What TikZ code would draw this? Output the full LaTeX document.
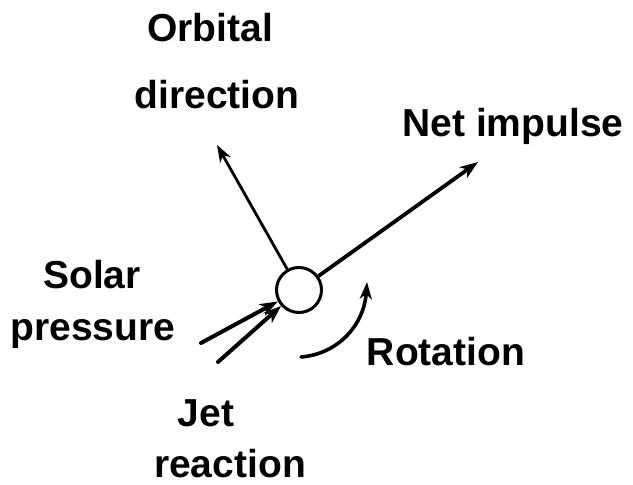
\documentclass[tikz,border=0pt]{standalone}
\usepackage{fontspec}
\setmainfont{Liberation Sans}
\usetikzlibrary{arrows.meta}
\begin{document}
\begin{tikzpicture}[x=1pt,y=-1pt,
  lbl/.style={anchor=base,inner sep=0pt,font=\fontsize{39}{44}\selectfont\bfseries},
  vec/.style={line width=2.8pt,-{Stealth[length=17pt,width=12pt,inset=5pt]}},
  thick vec/.style={line width=3.8pt,-{Stealth[length=18pt,width=13pt,inset=5pt]}},
  jet/.style={line width=4pt,line cap=round,-{Stealth[length=18pt,width=13pt,inset=5pt]}}]
\useasboundingbox (0,0) rectangle (633,485);
\node[circle,draw,line width=3pt,minimum size=45pt,inner sep=0pt] (sat) at (299,290) {};
\coordinate (otip) at (217,145);
\coordinate (ntip) at (478,162);
\coordinate (sp) at (201,343);
\coordinate (jr) at (218,362);
\coordinate (rs) at (301,357);
\coordinate (rt) at (367,282);
\draw[vec] (sat) -- (otip);
\draw[thick vec] (sat) -- (ntip);
\draw[jet] (sp) -- (sat);
\draw[jet] (jr) -- (sat);
\draw[line width=3.6pt,line cap=round,-{Stealth[length=17pt,width=12pt,inset=5pt]}] (rs) .. controls (338,354) and (364,325) .. (rt);
\node[lbl] (orb) at (210,41) {Orbital};
\node[lbl] (dir) at (217,108) {direction};
\node[lbl] (net) at (513,136) {Net impulse};
\node[lbl] (sol) at (92,288) {Solar};
\node[lbl] (pre) at (93,340) {pressure};
\node[lbl] (rot) at (446,365) {Rotation};
\node[lbl] (jet) at (206,426) {Jet};
\node[lbl] (rea) at (230,477) {reaction};
\end{tikzpicture}
\end{document}
